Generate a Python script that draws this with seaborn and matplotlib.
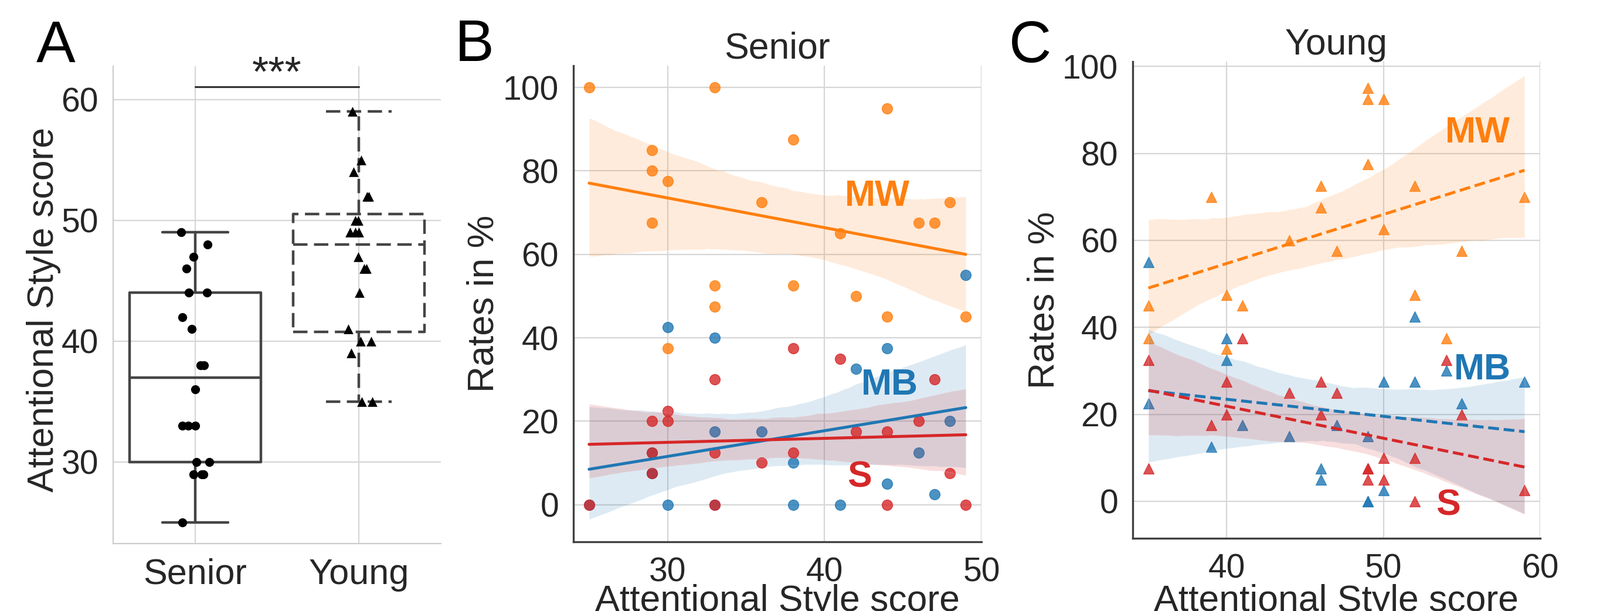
import numpy as np
import pandas as pd
import matplotlib
matplotlib.use("Agg")
import matplotlib.pyplot as plt
import seaborn as sns

# ---------------- data ----------------
groups = ["Senior", "Young"]

senior_as = [25, 29, 29, 29, 30, 30, 33, 33, 33, 36, 38, 38, 41, 42, 44, 44, 46, 47, 48, 49]
senior_mw = [100, 85, 80, 67.5, 77.5, 37.5, 100, 52.5, 47.5, 72.5, 87.5, 52.5, 65, 50, 95, 45, 67.5, 67.5, 72.5, 45]
senior_mb = [0, 7.5, 7.5, 12.5, 0, 42.5, 0, 17.5, 40, 17.5, 0, 10, 0, 32.5, 5, 37.5, 12.5, 2.5, 20, 55]
senior_s = [0, 7.5, 12.5, 20, 22.5, 20, 0, 30, 12.5, 10, 12.5, 37.5, 35, 17.5, 0, 17.5, 20, 30, 7.5, 0]

young_as = [35, 35, 39, 40, 40, 41, 44, 46, 46, 47, 49, 49, 49, 50, 50, 52, 52, 54, 55, 59]
young_mw = [45, 37.5, 70, 47.5, 35, 45, 60, 72.5, 67.5, 57.5, 95, 92.5, 77.5, 92.5, 62.5, 72.5, 47.5, 37.5, 57.5, 70]
young_mb = [22.5, 55, 12.5, 32.5, 37.5, 17.5, 15, 7.5, 5, 17.5, 0, 0, 15, 2.5, 27.5, 27.5, 42.5, 30, 22.5, 27.5]
young_s = [32.5, 7.5, 17.5, 20, 27.5, 37.5, 25, 20, 27.5, 25, 5, 7.5, 7.5, 5, 10, 0, 10, 32.5, 20, 2.5]

measures = ["MW", "MB", "S"]
sig_label = "***"
sig_y = 61.05

# ---------------- style ----------------
sns.set_theme(style="whitegrid")
plt.rcParams["font.family"] = ["Liberation Sans", "DejaVu Sans"]
plt.rcParams["grid.color"] = "0.84"
plt.rcParams["grid.linewidth"] = 1.6

colors = {"MW": "#ff7f0e", "MB": "#1f77b4", "S": "#d62728"}
TICK = 41
CATTICK = 44
LAB = 45
W, H = 2729, 1042

fig = plt.figure(figsize=(W / 100, H / 100), dpi=100)
axA = fig.add_axes([193 / W, 1 - 927 / H, (752 - 193) / W, (927 - 113) / H])
axB = fig.add_axes([978 / W, 1 - 924 / H, (1674 - 978) / W, (924 - 112) / H])
axC = fig.add_axes([1932 / W, 1 - 918 / H, (2627 - 1932) / W, (918 - 105) / H])

# ---------------- panel A ----------------
dfA = pd.DataFrame({
    "group": ["Senior"] * len(senior_as) + ["Young"] * len(young_as),
    "AS": senior_as + young_as,
})
sns.boxplot(data=dfA, x="group", y="AS", order=groups, fill=False, color="0.27",
            linewidth=3.2, width=0.8, showfliers=False, ax=axA)
for ln in axA.lines:
    xd = np.asarray(ln.get_xdata(), dtype=float)
    if xd.size and xd.mean() > 0.5:
        ln.set_linestyle((0, (5.5, 2.5)))

np.random.seed(7)
sns.stripplot(data=dfA[dfA.group == "Senior"], x="group", y="AS", order=groups,
              color="black", marker="o", size=11, jitter=0.09, ax=axA)
sns.stripplot(data=dfA[dfA.group == "Young"], x="group", y="AS", order=groups,
              color="black", marker="^", size=12, jitter=0.09, ax=axA)

axA.plot([0, 1], [sig_y, sig_y], color="0.2", lw=2.3, clip_on=False)
axA.text(0.5, sig_y + 0.05, sig_label, ha="center", va="baseline", fontsize=52, color="0.15")

axA.set_xlim(-0.5, 1.5)
axA.set_ylim(23.25, 62.75)
axA.set_yticks([30, 40, 50, 60])
axA.xaxis.grid(True)
axA.set_xlabel("")
axA.set_ylabel("Attentional Style score", fontsize=LAB)
axA.yaxis.set_label_coords(-0.159, 0.49)
axA.tick_params(axis="y", labelsize=TICK, pad=18, length=0)
axA.tick_params(axis="x", labelsize=CATTICK, pad=18, length=0)
for sp in ["top", "right"]:
    axA.spines[sp].set_visible(False)
for sp in ["left", "bottom"]:
    axA.spines[sp].set_color("0.8")
    axA.spines[sp].set_linewidth(1.6)

# ---------------- panels B & C ----------------
def reg_panel(ax, xs, series, marker, ls):
    x = np.array(xs, dtype=float)
    for name, vals in zip(measures, series):
        sns.regplot(x=x, y=np.array(vals, dtype=float), ax=ax, color=colors[name],
                    marker=marker, scatter_kws={"s": 165},
                    line_kws={"lw": 3.6, "ls": ls}, seed=1, truncate=True)
    ax.set_xlabel("Attentional Style score", fontsize=LAB)
    ax.set_ylabel("Rates in %", fontsize=LAB)
    ax.tick_params(labelsize=TICK, pad=18, length=0)
    ax.set_yticks([0, 20, 40, 60, 80, 100])
    for sp in ["top", "right"]:
        ax.spines[sp].set_visible(False)
    for sp in ["left", "bottom"]:
        ax.spines[sp].set_color("0.25")
        ax.spines[sp].set_linewidth(2.4)

reg_panel(axB, senior_as, [senior_mw, senior_mb, senior_s], "o", "-")
axB.set_xlim(24, 50)
axB.set_ylim(-8.9, 105.2)
axB.set_xticks([30, 40, 50])
axB.set_title("Senior", fontsize=45, pad=9)
axB.xaxis.set_label_coords(0.5, -0.089)
axB.yaxis.set_label_coords(-0.178, 0.5)

reg_panel(axC, young_as, [young_mw, young_mb, young_s], "^", "--")
axC.set_xlim(34, 60)
axC.set_ylim(-8.5, 101.1)
axC.set_xticks([40, 50, 60])
axC.set_title("Young", fontsize=45, pad=9)
axC.xaxis.set_label_coords(0.5, -0.096)
axC.yaxis.set_label_coords(-0.1755, 0.5)

# annotations
ann_kw = dict(fontsize=45, fontweight="bold", ha="left", va="baseline")
axB.text(41.3, 71.6, "MW", color=colors["MW"], **ann_kw)
axB.text(42.35, 26.4, "MB", color=colors["MB"], **ann_kw)
axB.text(41.45, 4.2, "S", color=colors["S"], **ann_kw)
axC.text(53.95, 82.5, "MW", color=colors["MW"], **ann_kw)
axC.text(54.5, 28.1, "MB", color=colors["MB"], **ann_kw)
axC.text(53.35, -3.2, "S", color=colors["S"], **ann_kw)

# panel letters
for lx, ly, letter in [(62, 106, "A"), (776, 104, "B"), (1721, 106, "C")]:
    fig.text(lx / W, 1 - ly / H, letter, fontsize=72, ha="left", va="baseline", color="black")

fig.savefig("out.png", dpi=100)
